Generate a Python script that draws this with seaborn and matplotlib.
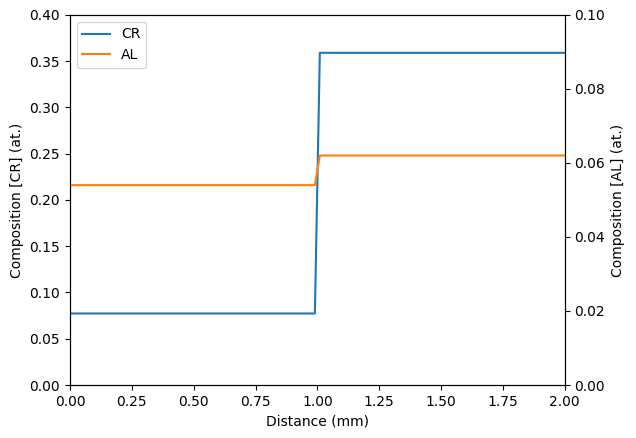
import numpy as np
import pandas as pd
import matplotlib
matplotlib.use('Agg')
import matplotlib.pyplot as plt
import seaborn as sns

# profile data (distance in mm, composition in at.)
distance = [0.0, 0.99, 1.01, 2.0]
cr = [0.0773, 0.0773, 0.359, 0.359]
al = [0.054, 0.054, 0.062, 0.062]

df = pd.DataFrame({'Distance (mm)': distance, 'CR': cr, 'AL': al})

fig, ax = plt.subplots(figsize=(6.36, 4.38), dpi=100)
fig.subplots_adjust(left=0.110, right=0.888, bottom=0.121, top=0.966)

sns.lineplot(data=df, x='Distance (mm)', y='CR', ax=ax, color='C0', label='CR', legend=False)
ax2 = ax.twinx()
sns.lineplot(data=df, x='Distance (mm)', y='AL', ax=ax2, color='C1', label='AL', legend=False)

ax.set_xlim(0, 2)
ax.set_ylim(0, 0.4)
ax2.set_ylim(0, 0.1)
ax.set_xlabel('Distance (mm)')
ax.set_ylabel('Composition [CR] (at.)')
ax2.set_ylabel('Composition [AL] (at.)')

h1, l1 = ax.get_legend_handles_labels()
h2, l2 = ax2.get_legend_handles_labels()
ax.legend(h1 + h2, l1 + l2, loc='upper left')

fig.savefig('out.png', dpi=100)
